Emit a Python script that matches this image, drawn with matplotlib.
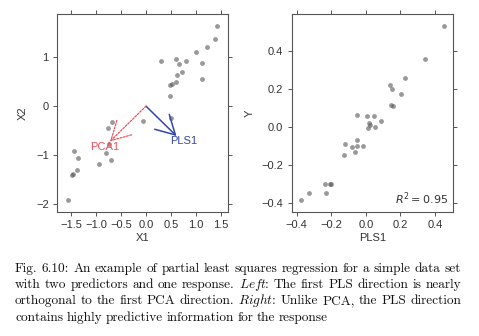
import numpy as np
import matplotlib
matplotlib.use("Agg")
import matplotlib.pyplot as plt
from matplotlib.patches import FancyArrowPatch

# data
x1 = [1.42, 1.39, 1.23, 1.00, 1.11, 1.11, 0.80, 0.71, 0.59, 0.65, 0.61, 0.59, 0.52,
      0.48, 0.47, 0.30, 0.50, -0.06, -0.69, -0.77, -0.74, -0.80, -0.71, -0.95,
      -1.45, -1.37, -1.39, -1.47, -1.49, -1.57]
x2 = [1.63, 1.37, 1.21, 1.11, 0.88, 0.56, 0.93, 0.69, 0.96, 0.86, 0.63, 0.50, 0.45,
      0.44, 0.21, 0.92, -0.24, -0.31, -0.32, -0.44, -0.77, -0.95, -1.09, -1.19,
      -0.92, -1.05, -1.31, -1.39, -1.41, -1.92]

pls1 = [0.450, 0.344, 0.225, 0.201, 0.140, 0.149, 0.144, 0.159, 0.088, 0.047, 0.055,
        0.005, -0.049, 0.020, 0.014, 0.022, -0.051, -0.053, -0.080, -0.016, -0.063,
        -0.122, -0.128, -0.199, -0.205, -0.234, -0.230, -0.331, -0.375]
y = [0.530, 0.360, 0.258, 0.172, 0.223, 0.202, 0.118, 0.111, 0.030, 0.058, -0.002,
     0.058, 0.061, 0.019, -0.004, 0.011, -0.067, -0.098, -0.104, -0.102, -0.130,
     -0.089, -0.147, -0.298, -0.298, -0.302, -0.347, -0.346, -0.386]

pls_dir = (0.61, -0.61)
pca_dir = (-0.72, -0.72)
r2_text = r"$R^2 = 0.95$"

caption_lines = [
    "Fig. 6.10: An example of partial least squares regression for a simple data set",
    r"with two predictors and one response. $\mathit{Lef}\hspace{-0.06}\mathit{t}$: The first PLS direction is nearly",
    r"orthogonal to the first PCA direction. $\mathit{Right}$: Unlike PCA, the PLS direction",
    "contains highly predictive information for the response",
]

W, H = 479, 336
fig = plt.figure(figsize=(W / 100, H / 100), dpi=100)
plt.rcParams['font.family'] = ['Liberation Sans', 'DejaVu Sans']

box_col = '#555555'
pt_col = '#555555'
lab_col = '#333333'


def style(ax):
    for s in ax.spines.values():
        s.set_color(box_col)
        s.set_linewidth(0.8)
    ax.tick_params(direction='out', length=3, width=0.7, color=box_col, labelcolor=lab_col,
                   labelsize=8, pad=3, top=True, right=True)


def px_axes(x0, x1p, y0, y1p):
    return fig.add_axes([x0 / W, 1 - y1p / H, (x1p - x0) / W, (y1p - y0) / H])


# left panel
ax1 = px_axes(57, 228, 14, 212)
ax1.scatter(x1, x2, s=12, color=pt_col, alpha=0.6, linewidths=0)
ax1.set_xlim(-1.78, 1.64)
ax1.set_ylim(-2.16, 1.88)
ax1.set_xticks([-1.5, -1.0, -0.5, 0.0, 0.5, 1.0, 1.5])
ax1.set_yticks([-2, -1, 0, 1])
style(ax1)
ax1.set_xlabel('X1', fontsize=8, labelpad=2, color=lab_col)
ax1.set_ylabel('X2', fontsize=8, labelpad=6, color=lab_col)

pls_col = '#3346a6'
pca_col = '#f0505a'
ax1.add_patch(FancyArrowPatch((0, 0), pls_dir, arrowstyle='->,head_length=1.35,head_width=0.75',
                              mutation_scale=10, color=pls_col, lw=1.1, shrinkA=0, shrinkB=0))
ax1.add_patch(FancyArrowPatch((0, 0), pca_dir, arrowstyle='->,head_length=1.35,head_width=0.75',
                              mutation_scale=10, color=pca_col, lw=0.9, linestyle=(0, (1.5, 1.2)),
                              shrinkA=0, shrinkB=0))
ax1.text(pls_dir[0] + 0.14, pls_dir[1] - 0.11, 'PLS1', color=pls_col, fontsize=8,
         ha='center', va='center')
ax1.text(pca_dir[0] - 0.10, pca_dir[1] - 0.12, 'PCA1', color=pca_col, fontsize=8,
         ha='center', va='center')

# right panel
ax2 = px_axes(291.7, 453.3, 14, 212)
ax2.scatter(pls1, y, s=12, color=pt_col, alpha=0.6, linewidths=0)
ax2.set_xlim(-0.429, 0.506)
ax2.set_ylim(-0.447, 0.595)
ax2.set_xticks([-0.4, -0.2, 0.0, 0.2, 0.4])
ax2.set_yticks([-0.4, -0.2, 0.0, 0.2, 0.4])
style(ax2)
ax2.set_xlabel('PLS1', fontsize=8, labelpad=2, color=lab_col)
ax2.set_ylabel('Y', fontsize=8, labelpad=5, color=lab_col)
ax2.text(0.97, 0.025, r2_text, transform=ax2.transAxes, ha='right', va='bottom',
         fontsize=8, color=lab_col)

# caption, justified like the LaTeX original
renderer = fig.canvas.get_renderer()
left_px, right_px = 15, 461
baseline0, line_gap = 271.7, 16.3
cap_kw = dict(fontsize=9.6, family='cmr10', math_fontfamily='cm', color='#111111',
              va='baseline', ha='left')
for i, line in enumerate(caption_lines):
    yb = 1 - (baseline0 + i * line_gap) / H
    words = line.split(' ')
    arts = [fig.text(0, yb, w, **cap_kw) for w in words]
    widths = [a.get_window_extent(renderer).width for a in arts]
    if i < len(caption_lines) - 1:
        gap = (right_px - left_px - sum(widths)) / (len(words) - 1)
    else:
        gap = 3.6
    xpos = left_px
    for a, w in zip(arts, widths):
        a.set_x(xpos / W)
        xpos += w + gap

fig.savefig('out.png', dpi=100)
